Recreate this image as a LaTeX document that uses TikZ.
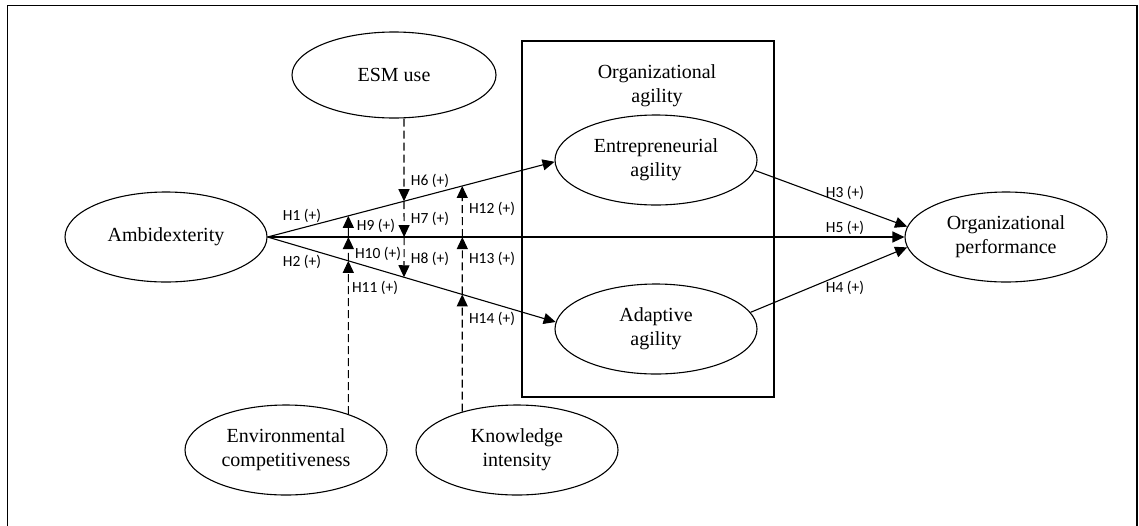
\documentclass[tikz,border=0pt]{standalone}
\usepackage{fontspec}
\setmainfont{Liberation Serif}
\newfontfamily\labfont{Carlito}
\usetikzlibrary{shapes.geometric,arrows.meta}
\begin{document}
\begin{tikzpicture}[x=1pt,y=-1pt,
  oval/.style={ellipse,draw,fill=white,line width=1.1pt,minimum width=202pt,minimum height=90pt,inner sep=0pt,align=center,font=\fontsize{20}{24}\selectfont},
  hyp/.style={font=\labfont\fontsize{15.5}{16}\selectfont,inner sep=0pt},
  conn/.style={line width=1.1pt,-{Triangle[length=12pt,width=11pt]}},
  modline/.style={conn,dash pattern=on 8pt off 4pt},
]
\useasboundingbox (0,0) rectangle (1139,525);
\clip (0,0) rectangle (1139,525);
% outer frame (bottom edge lies outside the picture)
\draw[line width=1.6pt] (7.5,560) -- (7.5,5.5) -- (1137,5.5) -- (1137,560);

% organizational agility box
\node[draw,line width=1.1pt,minimum width=252pt,minimum height=356pt,inner sep=0pt] (box) at (648,219) {};
\node[align=center,font=\fontsize{20}{24}\selectfont,inner sep=0pt] (oa) at (657,86) {Organizational\\agility};

% constructs
\node[oval] (amb) at (166,237) {Ambidexterity};
\node[oval,minimum width=204pt,minimum height=86pt] (esm) at (394,75) {ESM use};
\node[oval] (ent) at (656,160) {Entrepreneurial\\agility};
\node[oval] (ada) at (656,329) {Adaptive\\agility};
\node[oval] (perf) at (1006,237) {Organizational\\performance};
\node[oval] (env) at (286,450) {Environmental\\competitiveness};
\node[oval] (know) at (517,450) {Knowledge\\intensity};

% main paths
\draw[conn] (amb.east) -- (ent.181);
\draw[conn] (amb.east) -- (ada.176);
\draw[conn] (amb.east) -- (perf.west);
\draw[conn] (ent.-6) -- (perf.174);
\draw[conn] (ada.10) -- (perf.186);

% vertical guide lines for the moderators
\coordinate (mb) at (404,600);
\coordinate (mt) at (404,-100);
\path (env.30) coordinate (eb) ++(0,-500) coordinate (et);
\path (know.145) coordinate (kb) ++(0,-500) coordinate (kt);

\coordinate (p6) at (intersection of amb.east--ent.181 and mb--mt);
\coordinate (p7) at (intersection of amb.east--perf.west and mb--mt);
\coordinate (p8) at (intersection of amb.east--ada.176 and mb--mt);
\coordinate (p9) at (intersection of amb.east--ent.181 and eb--et);
\coordinate (p10) at (intersection of amb.east--perf.west and eb--et);
\coordinate (p11) at (intersection of amb.east--ada.176 and eb--et);
\coordinate (p12) at (intersection of amb.east--ent.181 and kb--kt);
\coordinate (p13) at (intersection of amb.east--perf.west and kb--kt);
\coordinate (p14) at (intersection of amb.east--ada.176 and kb--kt);

% moderating paths
\draw[modline] (esm.south -| mb) -- (p6);
\draw[modline] (p6) -- (p7);
\draw[modline] (p7) -- (p8);
\draw[modline] (env.30) -- (p11);
\draw[modline] (p11) -- (p10);
\draw[conn] (p10) -- (p9);
\draw[modline] (know.145) -- (p14);
\draw[modline] (p14) -- (p13);
\draw[modline] (p13) -- (p12);

% labels
\node[hyp] (h1) at (302,216) {H1 (+)};
\node[hyp] (h2) at (302,262) {H2 (+)};
\node[hyp] (h3) at (845,193) {H3 (+)};
\node[hyp] (h5) at (845,228) {H5 (+)};
\node[hyp] (h4) at (845,288) {H4 (+)};
\node[hyp] (h6) at (430,181) {H6 (+)};
\node[hyp] (h7) at (430,219) {H7 (+)};
\node[hyp] (h8) at (430,259) {H8 (+)};
\node[hyp] (h9) at (376,226) {H9 (+)};
\node[hyp] (h10) at (378,254) {H10 (+)};
\node[hyp] (h11) at (375,288) {H11 (+)};
\node[hyp] (h12) at (492,209) {H12 (+)};
\node[hyp] (h13) at (492,259) {H13 (+)};
\node[hyp] (h14) at (492,319) {H14 (+)};
\end{tikzpicture}
\end{document}
